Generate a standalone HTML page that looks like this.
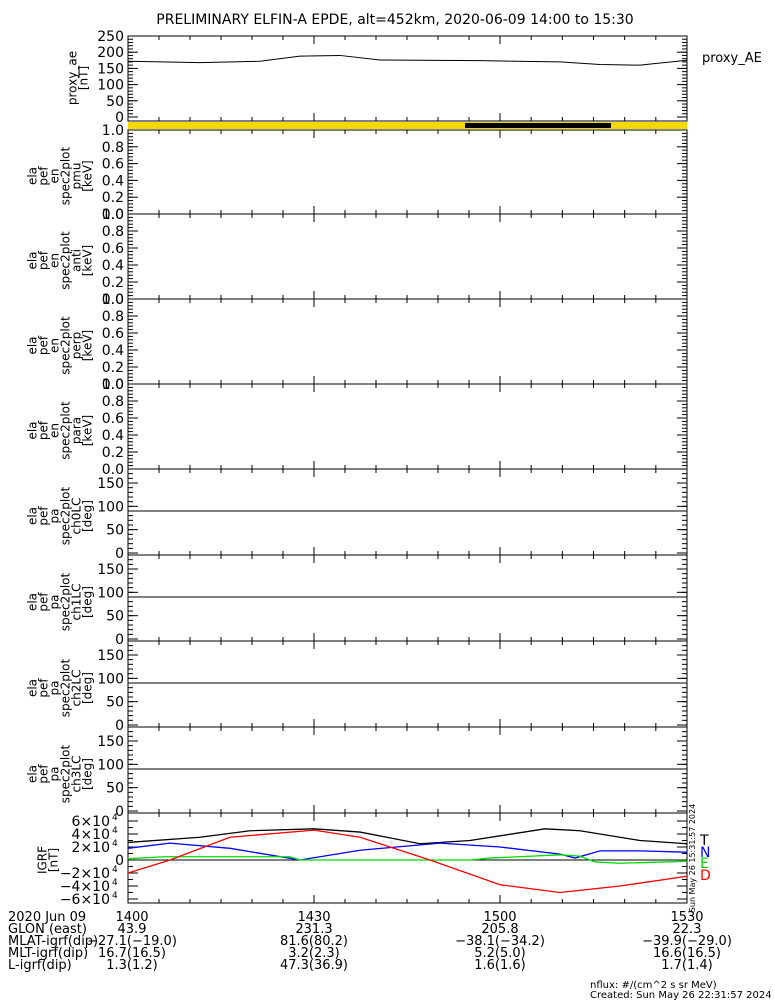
<!DOCTYPE html><html><head><meta charset="utf-8"><style>
body{margin:0;background:#fff}
svg text{font-family:"DejaVu Sans","Liberation Sans",sans-serif;font-size:12px;fill:#000}
</style></head><body>
<svg id="s" width="775" height="1000" xmlns="http://www.w3.org/2000/svg"></svg>
<script>
const s=document.getElementById('s');let h='';
const X0=128,X1=687;
function t(x,y,str,a,extra){h+=`<text x="${x}" y="${y}" text-anchor="${a||'start'}" ${extra||''}>${str}</text>`;}
function L(x1,y1,x2,y2,c,w){h+=`<line x1="${x1}" y1="${y1}" x2="${x2}" y2="${y2}" stroke="${c||'#000'}" stroke-width="${w||1}"/>`;}
function box(y0,y1){h+=`<rect x="${X0}" y="${y0}" width="${X1-X0}" height="${y1-y0}" fill="none" stroke="#000"/>`;
 const xs=[128,314,500,687];for(let i=0;i<3;i++){for(let k=0;k<=6;k++){let x=xs[i]+(xs[i+1]-xs[i])*k/6;let l=(k%6==0)?8:4;L(x,y0,x,y0+l);L(x,y1,x,y1-l);}}}
function yax(y0,y1,vmin,vmax,labels,minor,fmt){
 for(let v=vmin;v<=vmax+1e-9;v+=minor){let y=y1-(v-vmin)/(vmax-vmin)*(y1-y0);L(X0,y,X0+5,y);L(X1,y,X1-5,y);}
 labels.forEach(v=>{let y=y1-(v-vmin)/(vmax-vmin)*(y1-y0);L(X0,y,X0+10,y);L(X1,y,X1-10,y);t(124,y+5,fmt?fmt(v):v,'end','style="font-size:14px"');});}
function vlab(cx,cy,lines){lines.forEach((ln,i)=>{let x=cx-(lines.length-1)*5.5+i*11;t(x,cy,ln,'middle',`transform="rotate(-90 ${x} ${cy})"`);});}
t(395,24,'PRELIMINARY ELFIN-A EPDE, alt=452km, 2020-06-09 14:00 to 15:30','middle','style="font-size:14px"');
// proxy_ae
box(36,121);yax(36,117,0,250,[0,50,100,150,200,250],10);
vlab(82,78,['proxy_ae','[nT]']);t(702,62,'proxy_AE','start','style="font-size:13px"');
function sy(v){return 117-v/250*81;}
let ae=[[128,172],[200,168],[260,172],[300,188],[340,190],[380,176],[480,174],[560,170],[600,162],[640,160],[687,175]];
h+=`<polyline fill="none" stroke="#000" points="${ae.map(p=>p[0]+','+sy(p[1])).join(' ')}"/>`;
// bar
h+=`<rect x="128" y="122" width="559" height="7" fill="#f5d800"/><rect x="465" y="123" width="146" height="5" fill="#000"/>`;
// energy panels
const ep=[[130,214,'pmu'],[214,299,'anti'],[299,384,'perp'],[384,469,'para']];
ep.forEach(p=>{box(p[0],p[1]);yax(p[0],p[1],0,1,[0,0.2,0.4,0.6,0.8,1.0],0.04,v=>v.toFixed(1));
 vlab(64,(p[0]+p[1])/2+4,['ela','pef','en','spec2plot',p[2],'[keV]']);});
// deg panels
const dp=[[469,555,'ch0LC'],[555,641,'ch1LC'],[641,727,'ch2LC'],[727,813,'ch3LC']];
dp.forEach(p=>{box(p[0],p[1]);let y1=p[1]-2;yax(p[0],y1,0,180,[0,50,100,150],10);
 let y90=y1-90/180*(y1-p[0]);L(X0,y90,X1,y90);
 vlab(64,(p[0]+p[1])/2+4,['ela','pef','pa','spec2plot',p[2],'[deg]']);});
// IGRF
box(813,903);
const z=860,k=6.5;
for(let v=-6;v<=6;v+=1){let y=z-v*k;L(X0,y,X0+5,y);L(X1,y,X1-5,y);}
[-6,-4,-2,0,2,4,6].forEach(v=>{let y=z-v*k;L(X0,y,X0+10,y);L(X1,y,X1-10,y);
 if(v==0)t(124,y+5,'0','end','style="font-size:14px"');else h+=`<text x="110" y="${y+5}" text-anchor="end" style="font-size:14px">${v<0?'−':''}${Math.abs(v)}×10</text><text x="112" y="${y-1}" style="font-size:9px">4</text>`;});
L(X0,z,X1,z);
vlab(52,860,['IGRF','[nT]']);
function pl(pts,c){h+=`<polyline fill="none" stroke="${c}" stroke-width="1.3" points="${pts.map(p=>p[0]+','+(z-p[1]*k)).join(' ')}"/>`;}
pl([[128,2.7],[200,3.5],[250,4.5],[314,4.8],[360,4.3],[420,2.5],[470,3.0],[545,4.8],[580,4.5],[640,3.0],[687,2.5]],'#000');
pl([[128,1.8],[170,2.6],[230,1.8],[300,0],[360,1.5],[440,2.6],[500,2.0],[560,0.9],[575,0.3],[600,1.4],[640,1.4],[687,1.2]],'#00f');
pl([[128,0.2],[165,0.5],[290,0.5],[300,0],[470,0],[490,0.3],[560,0.8],[580,0.6],[595,-0.3],[620,-0.5],[687,-0.2]],'#0d0');
pl([[128,-2],[170,0],[230,3.5],[314,4.6],[360,3.5],[430,0],[500,-3.8],[560,-5],[620,-4],[687,-2.5]],'#f00');
t(700,845,'T','start','style="font-size:14px"');t(700,857,'N','start','style="font-size:14px;fill:#00f"');
t(700,868,'E','start','style="font-size:14px;fill:#0d0"');t(700,880,'D','start','style="font-size:14px;fill:#f00"');
t(695,858,'Sun May 26 15:31:57 2024','middle','style="font-size:8px" transform="rotate(-90 695 858)"');
// bottom table
const rows=[['2020 Jun 09','1400','1430','1500','1530'],['GLON (east)','43.9','231.3','205.8','22.3'],['MLAT-igrf(dip)','-27.1(-19.0)','81.6(80.2)','-38.1(-34.2)','-39.9(-29.0)'],['MLT-igrf(dip)','16.7(16.5)','3.2(2.3)','5.2(5.0)','16.6(16.5)'],['L-igrf(dip)','1.3(1.2)','47.3(36.9)','1.6(1.6)','1.7(1.4)']];
const cx=[128,314,500,687];
rows.forEach((r,i)=>{let y=921+i*12;t(8,y,r[0],'start','style="font-size:13px"');for(let j=1;j<5;j++)t(cx[j-1]+(j==1?4:0),y,r[j].replace(/-/g,'−'),'middle','style="font-size:13px"');});
t(590,988,'nflux: #/(cm^2 s sr MeV)','start','style="font-size:10px"');
t(590,998,'Created: Sun May 26 22:31:57 2024','start','style="font-size:10px"');
s.innerHTML=h;
</script></body></html>
